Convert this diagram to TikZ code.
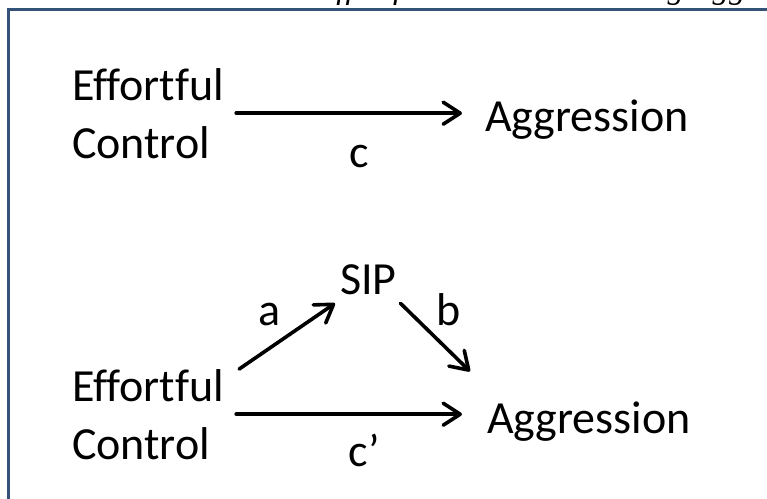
\documentclass[tikz,border=0pt]{standalone}
\usepackage{fontspec}
\setmainfont{Carlito}[Ligatures=NoCommon]
\newfontfamily\captionserif{Liberation Serif}[Ligatures=NoCommon]
\usetikzlibrary{arrows.meta,calc}
\definecolor{frameblue}{RGB}{52,82,120}
\begin{document}
\begin{tikzpicture}[x=1pt,y=-1pt,
  lbl/.style={inner sep=0pt,outer sep=0pt,anchor=base west,
              font=\fontsize{46}{58}\selectfont},
  coef/.style={lbl,anchor=base},
  arr/.style={line width=3.6pt,line cap=round,
              -{Straight Barb[length=17pt,width=22pt,line cap=round,line join=round]}}]
\useasboundingbox (0,0) rectangle (767,498);

% caption line above the frame (cut by the page edge) and the frame itself
\begin{scope}
  \clip (0,0) rectangle (767,498);
  \node[inner sep=0pt,anchor=base west,
        font=\captionserif\itshape\fontsize{33}{40}\selectfont]
        (cap) at (316,-2) {Effortful Control Predicting Aggression};
  \draw[frameblue,line width=2.6pt] (8.5,9.3) rectangle (790,520);
\end{scope}

% total effect (a multi-line node sits on its last baseline)
\node[lbl,align=left] (ec1) at (72,158) {Effortful\\Control};
\node[lbl] (ag1) at (485,131.7) {Aggression};
\draw[arr] ($(ec1.east)+(12,0)$) -- ($(ag1.west |- ec1.east)+(-23,0)$);
\node[coef] (c) at (359,167) {c};

% mediated model
\node[lbl] (sip) at (340,294) {SIP};
\node[lbl,align=left] (ec2) at (72,459) {Effortful\\Control};
\node[lbl] (ag2) at (487,433) {Aggression};
\draw[arr] ($(ec2.east)+(12,0)$) -- ($(ag2.west |- ec2.east)+(-25,0)$);
\draw[arr] ($(ec2.north east)+(15,0)$) -- ($(sip.south west)+(-5,9)$);
\draw[arr] ($(sip.south east)+(4,9)$) -- ($(ag2.north west)+(-17,-30)$);
\node[coef] (a) at (270,325) {a};
\node[coef] (b) at (449,325) {b};
\node[coef] (cp) at (364,466) {c’};
\end{tikzpicture}
\end{document}
